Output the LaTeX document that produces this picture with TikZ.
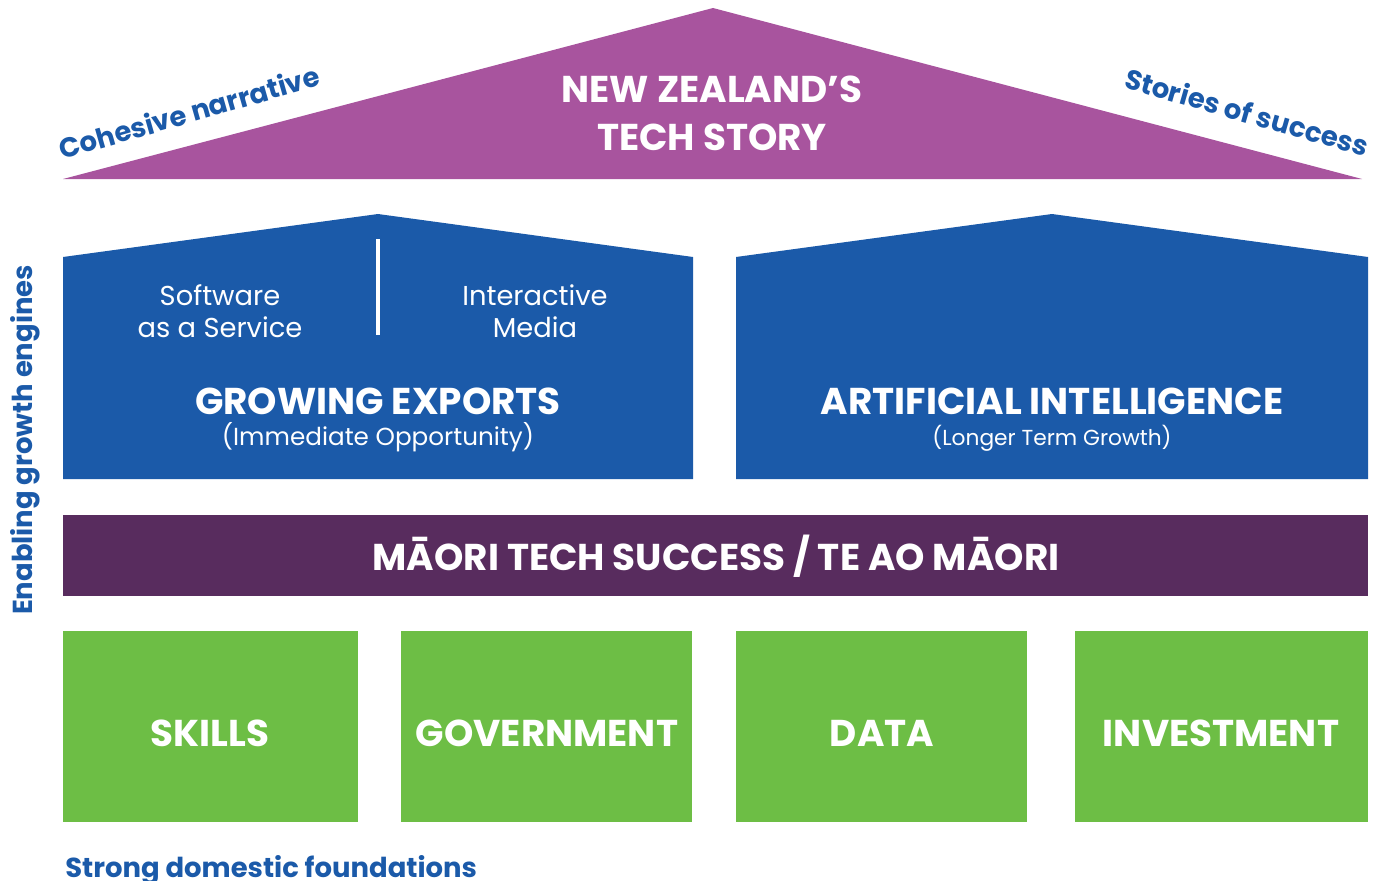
\documentclass[tikz,border=0pt]{standalone}
\usepackage{fontspec}
\setmainfont{Poppins}
\definecolor{roof}{HTML}{A8549E}
\definecolor{engine}{HTML}{1B5AA9}
\definecolor{maori}{HTML}{582C5E}
\definecolor{base}{HTML}{6DBE45}
\begin{document}
\begin{tikzpicture}
  [x=0.75pt,y=-0.75pt,
   lbl/.style={text=white,align=center,inner sep=0pt,font=\bfseries\fontsize{28}{36}\selectfont},
   sub/.style={text=white,align=center,inner sep=0pt,font=\fontsize{20.5}{24}\selectfont},
   side/.style={text=engine,inner sep=0pt,font=\bfseries\fontsize{20.6}{24}\selectfont}]
  \useasboundingbox (0,0) rectangle (1379,881);
  % roof and houses
  \fill[roof] (63,179) -- (713,8) -- (1362,179) -- cycle;
  \fill[engine] (63,479) -- (63,257) -- (378,214) -- (693,257) -- (693,479) -- cycle;
  \fill[engine] (736,479) -- (736,257) -- (1052,214) -- (1368,257) -- (1368,479) -- cycle;
  \draw[white,line width=3.5pt] (378,239) -- (378,335);
  \fill[maori] (63,515) rectangle (1368,596);
  \foreach \l/\r in {63/358,401/692,736/1027,1075/1368}
    \fill[base] (\l,631) rectangle (\r,822);
  % texts
  \node[lbl] (story) at (712,113) {NEW ZEALAND’S\\TECH STORY};
  \node[side,rotate=16] (narr) at (189,112) {Cohesive narrative};
  \node[side,rotate=-16] (succ) at (1247,112) {Stories of success};
  \node[sub] (saas) at (220,311) {Software\\as a Service};
  \node[sub] (media) at (535,311) {Interactive\\Media};
  \node[lbl] (exp) at (378,401) {GROWING EXPORTS};
  \node[sub,font=\fontsize{18.5}{22}\selectfont] (expsub) at (378,437) {(Immediate Opportunity)};
  \node[lbl] (ai) at (1052,401) {ARTIFICIAL INTELLIGENCE};
  \node[sub,font=\fontsize{16.3}{20}\selectfont] (aisub) at (1052,438) {(Longer Term Growth)};
  \node[lbl] (maori) at (716,556) {MĀORI TECH SUCCESS / TE AO MĀORI};
  \foreach \x/\t/\n in {210/SKILLS/skills,547/GOVERNMENT/gov,882/DATA/data,1221/INVESTMENT/inv}
    \node[lbl] (\n) at (\x,733) {\t};
  \node[side,rotate=90] (engines) at (25,440) {Enabling growth engines};
  \node[side,anchor=base west] (found) at (65,877) {Strong domestic foundations};
\end{tikzpicture}
\end{document}
